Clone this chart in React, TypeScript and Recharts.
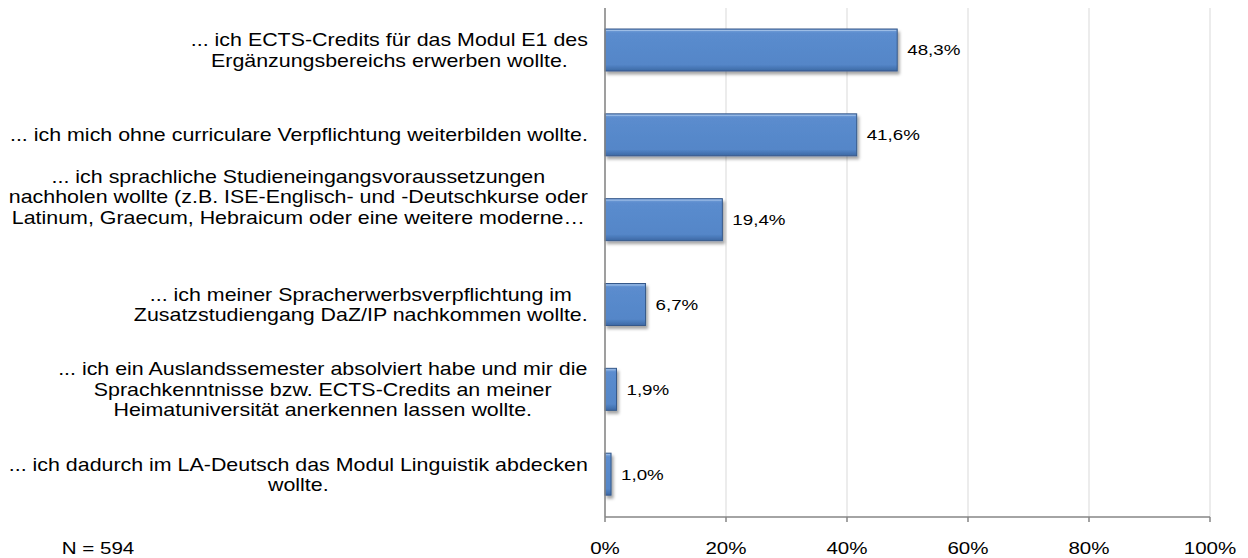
import { BarChart, Bar, XAxis, YAxis, CartesianGrid, LabelList } from "recharts";

// reasons, top to bottom (line breaks as in the original)
const CATEGORIES = [
  "... ich ECTS-Credits für das Modul E1 des\nErgänzungsbereichs erwerben wollte.",
  "... ich mich ohne curriculare Verpflichtung weiterbilden wollte.",
  "... ich sprachliche Studieneingangsvoraussetzungen\nnachholen wollte (z.B. ISE-Englisch- und -Deutschkurse oder\nLatinum, Graecum, Hebraicum oder eine weitere moderne…",
  "... ich meiner Spracherwerbsverpflichtung im\nZusatzstudiengang DaZ/IP nachkommen wollte.",
  "... ich ein Auslandssemester absolviert habe und mir die\nSprachkenntnisse bzw. ECTS-Credits an meiner\nHeimatuniversität anerkennen lassen wollte.",
  "... ich dadurch im LA-Deutsch das Modul Linguistik abdecken\nwollte.",
];
const VALUES = [48.3, 41.6, 19.4, 6.7, 1.9, 1.0];

const X_TICKS = [0, 20, 40, 60, 80, 100];
const X_MINOR_TICKS = [
  0, 2, 4, 6, 8, 10, 12, 14, 16, 18, 20, 22, 24, 26, 28, 30, 32, 34, 36, 38, 40,
  42, 44, 46, 48, 50, 52, 54, 56, 58, 60, 62, 64, 66, 68, 70, 72, 74, 76, 78, 80,
  82, 84, 86, 88, 90, 92, 94, 96, 98, 100,
];
// half-band marks on the category axis (edges and centres)
const Y_MARKS = [0, 1, 2, 3, 4, 5, 6, 7, 8, 9, 10, 11, 12];
const N_LABEL = "N = 594";

const W = 1248;
const H = 558;
const PLOT_LEFT = 605;
const PLOT_RIGHT = 1210;
const PLOT_TOP = 8;
const X_AXIS_H = 41;
const PLOT_H = H - PLOT_TOP - X_AXIS_H;
const BAND = PLOT_H / CATEGORIES.length;

// the original is an Excel export stretched sideways, so text is widened too
const FONT = '"Liberation Sans", Arial, sans-serif';
const SX = 1.21;
const LABEL_SIZE = 17.7;
const LINE_H = 20.5;
const AXIS_GREY = "#868686";

const data = CATEGORIES.map((label, i) => ({ label, value: VALUES[i] }));

let ctx: CanvasRenderingContext2D | null = null;
function textWidth(s: string, size: number) {
  if (!ctx) ctx = document.createElement("canvas").getContext("2d");
  if (!ctx) return s.length * size * 0.5;
  ctx.font = `${size}px ${FONT}`;
  return ctx.measureText(s).width;
}

function WideText({ x, y, size, anchor = "middle", children }: any) {
  return (
    <text
      transform={`translate(${x},${y}) scale(${SX},1)`}
      dy="0.35em"
      textAnchor={anchor}
      fontSize={size}
      fontFamily={FONT}
      fill="#000"
    >
      {children}
    </text>
  );
}

function CategoryTick({ y, payload }: any) {
  const lines = String(payload.value).split("\n");
  const maxW = Math.max(...lines.map((l) => textWidth(l, LABEL_SIZE))) * SX;
  const cx = PLOT_LEFT - 17 - maxW / 2;
  // a cut-off label sits at the top of its band, like Excel does it
  const cut = lines[lines.length - 1].endsWith("…");
  const firstY = cut ? y - BAND / 2 - 1 : y - ((lines.length - 1) * LINE_H) / 2;
  return (
    <g>
      {lines.map((l, i) => (
        <WideText key={i} x={cx} y={firstY + i * LINE_H} size={LABEL_SIZE}>
          {l}
        </WideText>
      ))}
    </g>
  );
}

function PercentTick({ x, y, payload }: any) {
  return (
    <WideText x={x} y={y + 7} size={17}>
      {`${payload.value}%`}
    </WideText>
  );
}

function ValueLabel({ x, y, width, height, value }: any) {
  return (
    <WideText x={x + width + 10} y={y + height / 2} size={15.5} anchor="start">
      {`${Number(value).toFixed(1).replace(".", ",")}%`}
    </WideText>
  );
}

function BevelBar({ x, y, width, height }: any) {
  if (!width || width <= 0) return null;
  return (
    <g>
      <rect
        x={x}
        y={y}
        width={width}
        height={height}
        fill="url(#barFill)"
        stroke="#36598A"
        strokeWidth={1}
        filter="url(#barShadow)"
      />
      <line x1={x + 1} x2={x + width - 1} y1={y + 1.5} y2={y + 1.5} stroke="#9DBDE6" strokeWidth={1} />
    </g>
  );
}

const noTick = () => <g />;

export default function App() {
  return (
    <div
      style={{
        position: "absolute",
        left: 0,
        top: 0,
        width: W,
        height: H,
        overflow: "hidden",
        background: "#fff",
        fontFamily: FONT,
      }}
    >
      <svg width={0} height={0} style={{ position: "absolute" }}>
        <defs>
          <linearGradient id="barFill" x1="0" y1="0" x2="0" y2="1">
            <stop offset="0%" stopColor="#7AA3DA" />
            <stop offset="10%" stopColor="#5B8CCE" />
            <stop offset="85%" stopColor="#5486C8" />
            <stop offset="100%" stopColor="#3C68A4" />
          </linearGradient>
          <filter id="barShadow" filterUnits="userSpaceOnUse" x="0" y="0" width={W} height={H}>
            <feDropShadow dx="2" dy="3" stdDeviation="1.6" floodColor="#000" floodOpacity="0.35" />
          </filter>
        </defs>
      </svg>

      <BarChart
        width={W}
        height={H}
        data={data}
        layout="vertical"
        margin={{ top: PLOT_TOP, right: W - PLOT_RIGHT, bottom: 0, left: 0 }}
      >
        <CartesianGrid horizontal={false} stroke="#D9D9D9" />
        <XAxis
          type="number"
          xAxisId="minor"
          domain={[0, 100]}
          ticks={X_MINOR_TICKS}
          interval={0}
          height={0}
          mirror
          axisLine={false}
          tickSize={4}
          tickLine={{ stroke: AXIS_GREY, strokeWidth: 1 }}
          tick={noTick}
        />
        <XAxis
          type="number"
          domain={[0, 100]}
          ticks={X_TICKS}
          interval={0}
          height={X_AXIS_H}
          axisLine={{ stroke: AXIS_GREY, strokeWidth: 1.5 }}
          tickLine={{ stroke: AXIS_GREY, strokeWidth: 1.5 }}
          tickSize={5}
          tickMargin={19}
          tick={<PercentTick />}
        />
        <YAxis
          type="number"
          yAxisId="marks"
          domain={[0, 12]}
          ticks={Y_MARKS}
          interval={0}
          width={0}
          mirror
          axisLine={false}
          tickSize={5}
          tickLine={{ stroke: AXIS_GREY, strokeWidth: 1 }}
          tick={noTick}
        />
        <YAxis
          type="category"
          dataKey="label"
          width={PLOT_LEFT}
          interval={0}
          axisLine={{ stroke: AXIS_GREY, strokeWidth: 1.5 }}
          tickLine={false}
          tick={<CategoryTick />}
        />
        <Bar dataKey="value" barSize={42} isAnimationActive={false} shape={<BevelBar />}>
          <LabelList dataKey="value" content={<ValueLabel />} />
        </Bar>
      </BarChart>

      <div
        style={{
          position: "absolute",
          left: 98,
          top: 549,
          transform: `translate(-50%, -50%) scaleX(${SX})`,
          fontSize: 17,
          lineHeight: "20px",
          whiteSpace: "nowrap",
          color: "#000",
        }}
      >
        {N_LABEL}
      </div>
    </div>
  );
}
